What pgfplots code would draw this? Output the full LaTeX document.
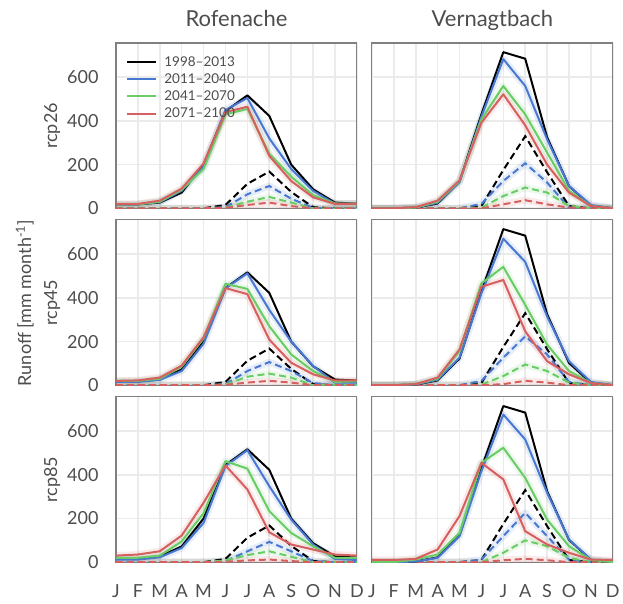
\documentclass[border=0pt]{standalone}
\usepackage{fontspec}
\setmainfont{Lato}
\usepackage{pgfplots}
\pgfplotsset{compat=1.18}
\usepackage{pgfplotstable}
\usepgfplotslibrary{groupplots}

\definecolor{cobs}{HTML}{000000}
\definecolor{cb}{HTML}{4878CF}
\definecolor{cg}{HTML}{6ACC65}
\definecolor{cr}{HTML}{D65F5F}
\definecolor{txt}{HTML}{4D4D4D}
\definecolor{gridc}{HTML}{EBEBEB}
\definecolor{framec}{HTML}{808080}

% m = month (0=Jan), obs/b/g/r = total runoff, *d = dashed component
\pgfplotstableread{
m obs b g r od bd gd rd
0 18 18 18 20 0 0 0 0
1 18 18 18 20 0 0 0 0
2 26 28 30 35 0 0 0 0
3 72 80 85 90 0 0 0 0
4 200 190 180 205 0 0 0 0
5 445 450 430 440 15 5 3 2
6 517 505 455 465 112 64 30 15
7 423 320 250 240 168 102 52 26
8 200 180 145 125 75 44 26 10
9 87 80 60 50 5 2 0 0
10 26 21 22 20 0 0 0 0
11 21 21 21 21 0 0 0 0
}\roA
\pgfplotstableread{
m obs b g r od bd gd rd
0 18 15 20 20 0 0 0 0
1 18 15 20 22 0 0 0 0
2 26 25 30 35 0 0 0 0
3 72 65 85 90 0 0 0 0
4 200 190 215 220 0 0 0 0
5 445 444 465 445 15 5 3 2
6 517 512 441 417 112 65 39 12
7 423 345 270 209 168 106 53 20
8 200 200 141 103 75 65 35 12
9 87 88 65 50 5 10 0 0
10 26 12 15 22 0 0 0 0
11 21 12 18 22 0 0 0 0
}\roB
\pgfplotstableread{
m obs b g r od bd gd rd
0 18 12 20 30 0 0 0 0
1 18 12 20 35 0 0 0 0
2 26 22 30 50 0 0 0 0
3 72 65 95 122 0 0 0 0
4 200 180 225 272 0 0 0 0
5 445 440 463 443 15 5 8 2
6 517 513 428 333 112 50 32 8
7 423 348 234 137 168 93 50 12
8 200 195 134 81 75 50 25 5
9 87 81 73 58 5 5 0 0
10 26 15 20 35 0 0 0 0
11 21 10 20 30 0 0 0 0
}\roC
\pgfplotstableread{
m obs b g r od bd gd rd
0 0 0 0 0 0 0 0 0
1 0 0 0 0 0 0 0 0
2 3 3 3 5 0 0 0 0
3 22 25 30 35 0 0 0 0
4 122 120 125 128 0 0 0 0
5 430 420 407 392 10 20 3 0
6 715 683 560 522 175 125 56 18
7 685 560 430 380 330 206 95 37
8 325 316 255 200 165 118 72 18
9 102 102 80 72 10 3 10 3
10 11 15 10 10 0 0 0 0
11 0 0 0 0 0 0 0 0
}\veA
\pgfplotstableread{
m obs b g r od bd gd rd
0 0 0 0 0 0 0 0 0
1 0 0 0 0 0 0 0 0
2 3 3 5 5 0 0 0 0
3 22 25 30 35 0 0 0 0
4 122 126 156 164 0 0 0 0
5 430 421 467 451 10 20 3 0
6 715 671 542 482 175 126 42 5
7 685 565 368 247 330 224 95 20
8 325 315 186 110 165 141 65 12
9 102 110 65 50 10 15 12 0
10 11 15 10 10 0 0 0 0
11 0 0 0 0 0 0 0 0
}\veB
\pgfplotstableread{
m obs b g r od bd gd rd
0 0 0 0 10 0 0 0 0
1 0 0 0 10 0 0 0 0
2 3 3 12 15 0 0 0 0
3 22 20 35 58 0 0 0 0
4 122 119 134 211 0 0 0 0
5 430 417 455 455 10 12 0 0
6 715 676 524 379 175 119 43 9
7 685 562 386 142 330 226 100 15
8 325 318 195 81 165 119 73 9
9 102 104 73 43 10 12 20 0
10 11 12 10 12 0 0 0 0
11 0 0 0 10 0 0 0 0
}\veC

\pgfplotsset{
  band/.style={#1, line width=7pt, opacity=0.13, line join=round, forget plot},
  sol/.style={#1, line width=2pt, line join=round},
  dsh/.style={#1, line width=2pt, dash pattern=on 7pt off 4pt, forget plot},
}

\newcommand\panel[1]{%
  \addplot[band=cb] table[x=m,y=b]{#1};
  \addplot[band=cg] table[x=m,y=g]{#1};
  \addplot[band=cr] table[x=m,y=r]{#1};
  \addplot[band=cb] table[x=m,y=bd]{#1};
  \addplot[band=cg] table[x=m,y=gd]{#1};
  \addplot[band=cr] table[x=m,y=rd]{#1};
  \addplot[dsh=cobs] table[x=m,y=od]{#1};
  \addplot[dsh=cb] table[x=m,y=bd]{#1};
  \addplot[dsh=cg] table[x=m,y=gd]{#1};
  \addplot[dsh=cr] table[x=m,y=rd]{#1};
  \addplot[sol=cobs] table[x=m,y=obs]{#1};
  \addplot[sol=cb] table[x=m,y=b]{#1};
  \addplot[sol=cg] table[x=m,y=g]{#1};
  \addplot[sol=cr] table[x=m,y=r]{#1};
}

\begin{document}
\begin{tikzpicture}
\begin{groupplot}[
  group style={group size=2 by 3, horizontal sep=15pt, vertical sep=11pt,
    xticklabels at=edge bottom, yticklabels at=edge left},
  scale only axis, width=241pt, height=166pt,
  xmin=0, xmax=11, ymin=-3, ymax=757,
  xtick={0,...,11}, xticklabels={J,F,M,A,M,J,J,A,S,O,N,D},
  ytick={0,200,400,600},
  grid=major, major grid style={gridc, line width=1.6pt},
  major tick length=0pt,
  axis line style={framec, line width=1.1pt},
  /pgf/number format/assume math mode=true,
  tick label style={font=\fontsize{18}{20}\selectfont, text=txt},
  yticklabel style={xshift=-14pt},
  xticklabel style={yshift=-18pt},
  label style={font=\fontsize{18}{22}\selectfont, text=txt},
  ylabel style={align=center},
  title style={font=\fontsize{22}{26}\selectfont, text=txt,
    text height=0.75em, text depth=0.22em, yshift=5pt},
  legend style={draw=none, fill=none, at={(0.03,0.945)}, anchor=north west,
    font=\fontsize{13.5}{16}\selectfont, text=txt, row sep=2pt},
  legend cell align=left,
  legend image code/.code={\draw[#1] (0pt,0pt) -- (29pt,0pt); \path (34pt,0pt);},
]
\nextgroupplot[title={Rofenache}, ylabel={rcp26}]
\panel{\roA}
\legend{1998--2013, 2011--2040, 2041--2070, 2071--2100}
\nextgroupplot[title={Vernagtbach}]
\panel{\veA}
\nextgroupplot[ylabel={Runoff [mm month\textsuperscript{-1}]\\[4pt]rcp45}]
\panel{\roB}
\nextgroupplot
\panel{\veB}
\nextgroupplot[ylabel={rcp85}]
\panel{\roC}
\nextgroupplot
\panel{\veC}
\end{groupplot}
\path (group c1r1.north west) ++(-116pt,43pt) rectangle ++(623pt,-604pt);
\end{tikzpicture}
\end{document}
